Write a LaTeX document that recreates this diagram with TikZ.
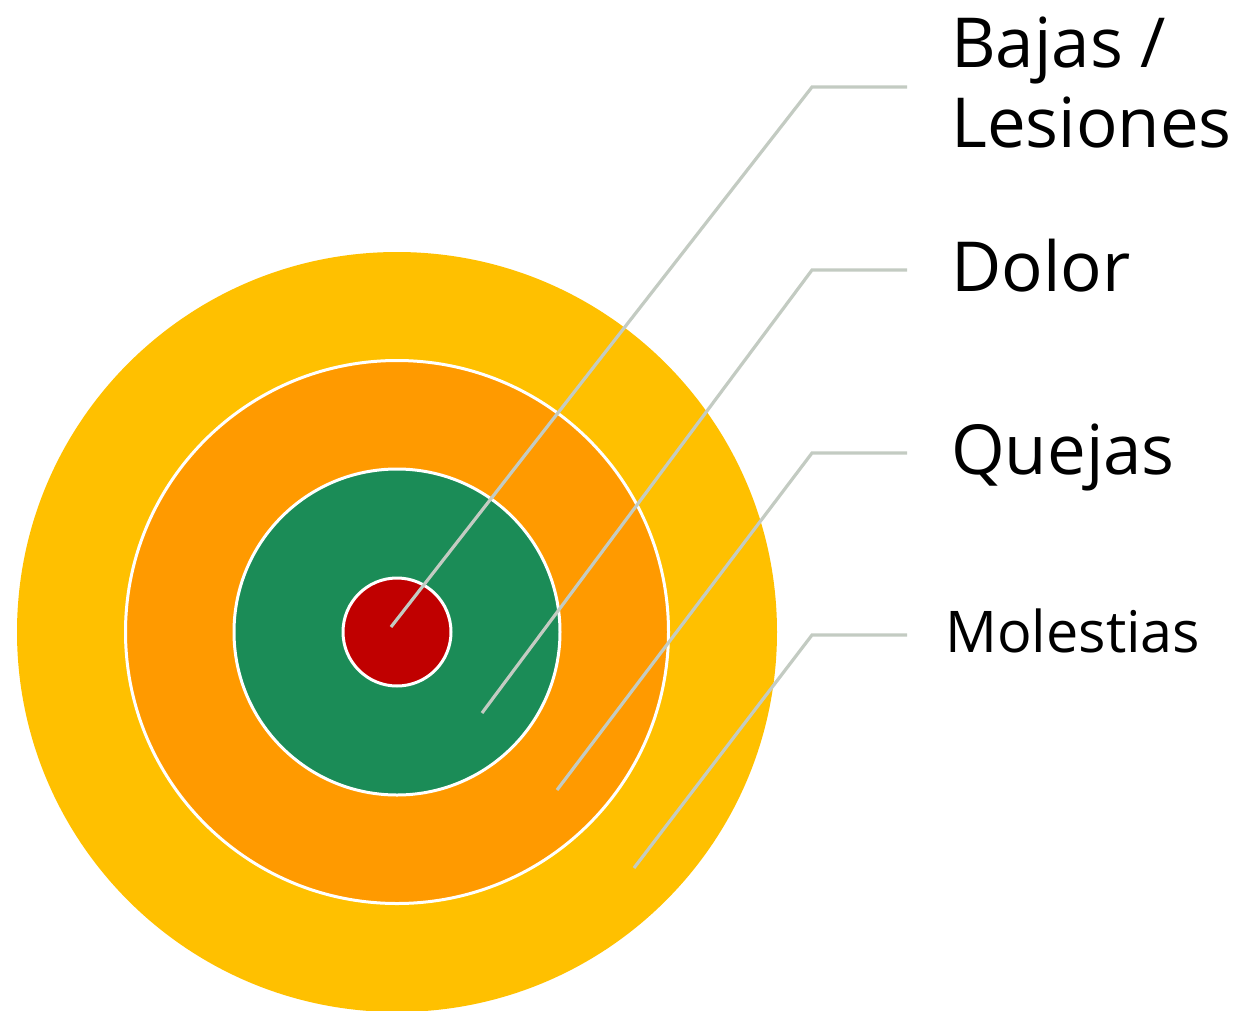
\documentclass[tikz,border=0pt]{standalone}
\usepackage{fontspec}
\setmainfont{Open Sans}
\definecolor{cyellow}{HTML}{FFC000}
\definecolor{corange}{HTML}{FF9A00}
\definecolor{cgreen}{HTML}{1B8C57}
\definecolor{cred}{HTML}{C00000}
\definecolor{cline}{HTML}{C3CBC2}
\begin{document}
\begin{tikzpicture}[x=1pt,y=-1pt,
  ring/.style={circle,inner sep=0pt,outer sep=0pt,draw=white,line width=3pt},
  leader/.style={draw=cline,line width=3.2pt},
  lab/.style={anchor=base west,inner sep=0pt,font=\fontsize{69}{82}\selectfont},
  labsmall/.style={anchor=base west,inner sep=0pt,font=\fontsize{57.5}{66}\selectfont}]
\useasboundingbox (0,0) rectangle (1243,1010);
\clip (0,0) rectangle (1243,1010);
\node[circle,inner sep=0pt,fill=cyellow,minimum size=760pt] (c1) at (397,632) {};
\node[ring,fill=corange,minimum size=543pt] (c2) at (397,632) {};
\node[ring,fill=cgreen,minimum size=326pt] (c3) at (397,632) {};
\node[ring,fill=cred,minimum size=108pt] (c4) at (397,632) {};
\coordinate (s1) at (391,627);
\coordinate (s2) at (482,713);
\coordinate (s3) at (557,790);
\coordinate (s4) at (634,868);
\coordinate (k1) at (812,87);
\coordinate (k2) at (812,270);
\coordinate (k3) at (812,453);
\coordinate (k4) at (812,635);
\coordinate (e1) at (907,87);
\coordinate (e2) at (907,270);
\coordinate (e3) at (907,453);
\coordinate (e4) at (907,635);
\draw[leader] (s1) -- (k1) -- (e1);
\draw[leader] (s2) -- (k2) -- (e2);
\draw[leader] (s3) -- (k3) -- (e3);
\draw[leader] (s4) -- (k4) -- (e4);
\node[lab] (t1a) at (951,67) {Bajas /};
\node[lab] (t1b) at (951,147) {Lesiones};
\node[lab] (t2) at (951,291) {Dolor};
\node[lab] (t3) at (951,474) {Quejas};
\node[labsmall] (t4) at (945,652) {Molestias};
\end{tikzpicture}
\end{document}
